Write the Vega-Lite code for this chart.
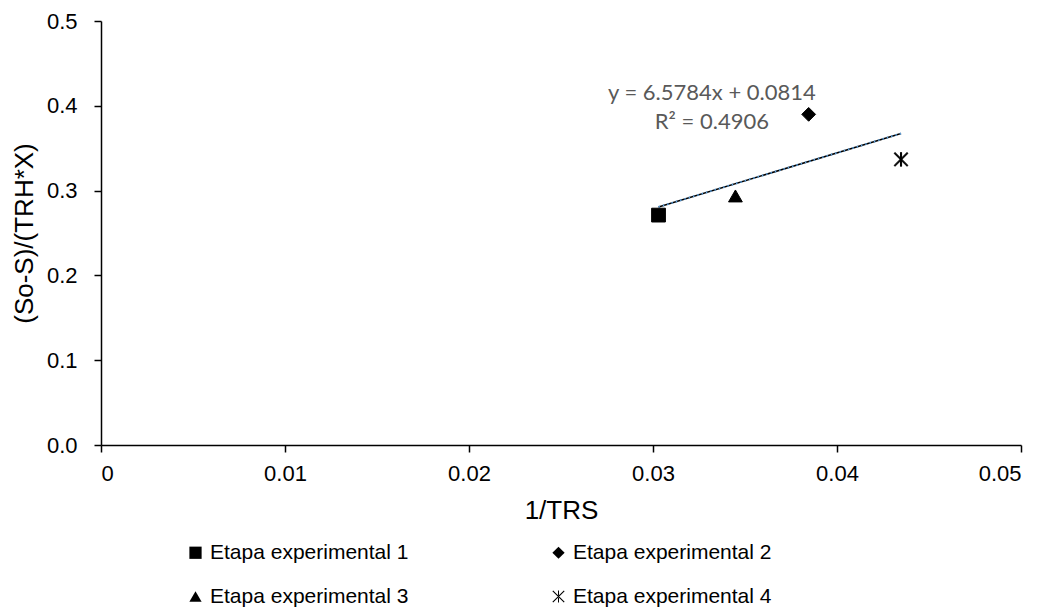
{
  "$schema": "https://vega.github.io/schema/vega-lite/v6.json",
  "width": 920,
  "height": 424,
  "autosize": {"type": "none"},
  "padding": {"left": 101, "top": 21, "right": 28, "bottom": 163},
  "background": "white",
  "config": {
    "view": {"stroke": null},
    "font": "Liberation Sans",
    "axis": {
      "grid": false,
      "domainColor": "black",
      "tickColor": "black",
      "labelColor": "black",
      "titleColor": "black",
      "labelFont": "Liberation Sans",
      "titleFont": "Liberation Sans",
      "labelFontSize": 22,
      "titleFontSize": 26,
      "titleFontWeight": "normal",
      "domainWidth": 1.5,
      "tickWidth": 1.5,
      "tickSize": 7
    }
  },
  "layer": [
    {
      "data": {"values": [
        {"x": 0.0303, "y": 0.2807},
        {"x": 0.04348, "y": 0.3674}
      ]},
      "mark": {"type": "line", "color": "black", "strokeWidth": 1.5},
      "encoding": {
        "x": {"field": "x", "type": "quantitative", "scale": {"domain": [0, 0.05], "nice": false}},
        "y": {"field": "y", "type": "quantitative", "scale": {"domain": [0, 0.5], "nice": false}}
      }
    },
    {
      "data": {"values": [
        {"x": 0.0303, "y": 0.2807},
        {"x": 0.04348, "y": 0.3674}
      ]},
      "mark": {"type": "line", "color": "#5B9BD5", "strokeWidth": 2, "strokeDash": [1.5, 3]},
      "encoding": {
        "x": {"field": "x", "type": "quantitative"},
        "y": {"field": "y", "type": "quantitative"}
      }
    },
    {
      "data": {"values": [
        {"etapa": "Etapa experimental 1", "x": 0.0303, "y": 0.2711},
        {"etapa": "Etapa experimental 2", "x": 0.03846, "y": 0.3899},
        {"etapa": "Etapa experimental 3", "x": 0.03448, "y": 0.2937},
        {"etapa": "Etapa experimental 4", "x": 0.04348, "y": 0.3368}
      ]},
      "mark": {"type": "point", "filled": true, "size": 190, "fill": "black", "stroke": "black", "strokeWidth": 1, "opacity": 1},
      "encoding": {
        "x": {
          "field": "x", "type": "quantitative",
          "scale": {"domain": [0, 0.05], "nice": false},
          "axis": {
            "values": [0, 0.01, 0.02, 0.03, 0.04, 0.05],
            "labelExpr": "datum.value == 0 ? '0' : format(datum.value, '.2f')",
            "title": "1/TRS",
            "labelPadding": 11,
            "titlePadding": 13
          }
        },
        "y": {
          "field": "y", "type": "quantitative",
          "scale": {"domain": [0, 0.5], "nice": false},
          "axis": {
            "values": [0, 0.1, 0.2, 0.3, 0.4, 0.5],
            "format": ".1f",
            "title": "(So-S)/(TRH*X)",
            "labelPadding": 17,
            "titlePadding": 9
          }
        },
        "shape": {
          "field": "etapa", "type": "nominal",
          "scale": {
            "domain": ["Etapa experimental 1", "Etapa experimental 2", "Etapa experimental 3", "Etapa experimental 4"],
            "range": ["square", "diamond", "triangle-up", "M-1,-0.87L-0.87,-1L1,0.87L0.87,1Z M1,-0.87L0.87,-1L-1,0.87L-0.87,1Z M-0.08,-1H0.08V1H-0.08Z"]
          },
          "legend": {
            "orient": "none",
            "direction": "horizontal",
            "legendX": 84,
            "legendY": 521,
            "columns": 2,
            "columnPadding": 139,
            "rowPadding": 22,
            "title": null,
            "labelFontSize": 21,
            "labelFont": "Liberation Sans",
            "labelColor": "black",
            "labelLimit": 400,
            "labelOffset": 4,
            "symbolSize": 150,
            "symbolFillColor": "black",
            "symbolStrokeColor": "black",
            "symbolStrokeWidth": 1,
            "encode": {
              "symbols": {
                "update": {
                  "stroke": {"value": "black"},
                  "strokeWidth": {"value": 1},
                  "fill": {"value": "black"},
                  "opacity": {"value": 1}
                }
              }
            }
          }
        }
      }
    },
    {
      "data": {"values": [
        {"x": 0.0332, "y": 0.415, "label": "y = 6.5784x + 0.0814"},
        {"x": 0.0332, "y": 0.381, "label": "R² = 0.4906"}
      ]},
      "mark": {"type": "text", "font": "Lato", "fontSize": 22, "color": "#595959", "align": "center", "baseline": "middle"},
      "encoding": {
        "x": {"field": "x", "type": "quantitative"},
        "y": {"field": "y", "type": "quantitative"},
        "text": {"field": "label"}
      }
    }
  ]
}
